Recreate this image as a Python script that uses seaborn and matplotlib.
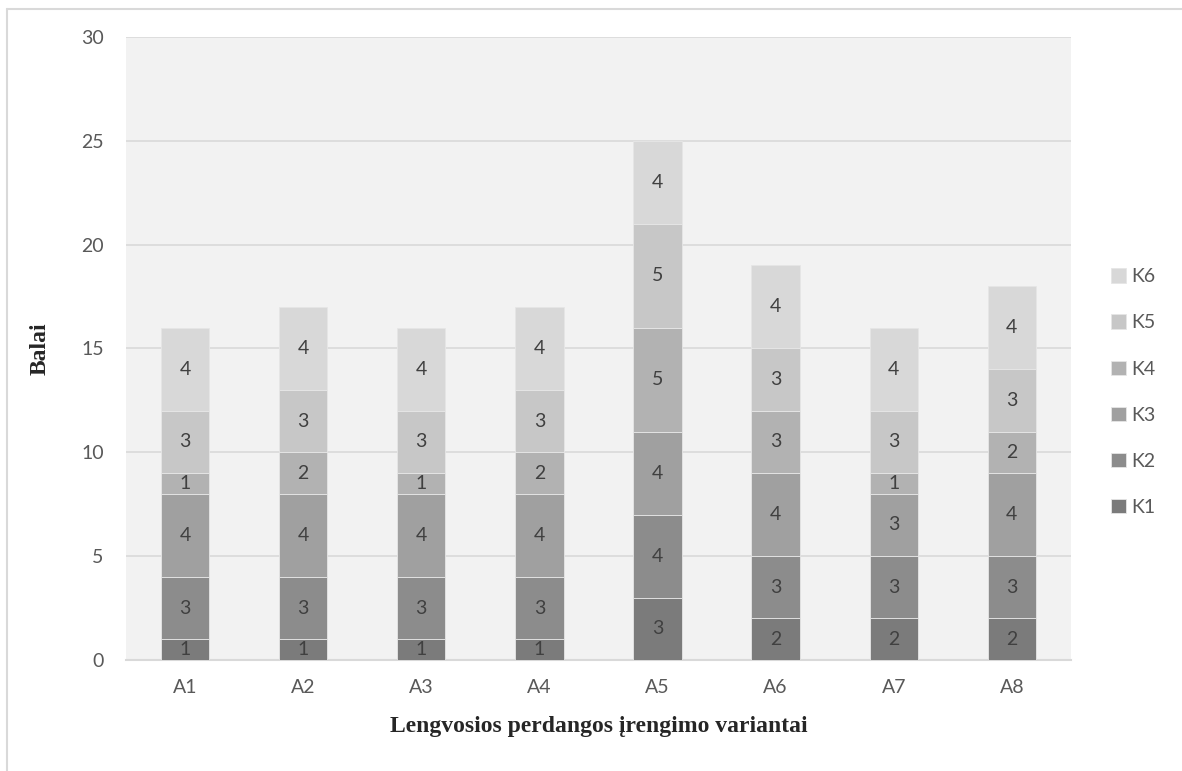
import numpy as np
import pandas as pd
import seaborn as sns
import matplotlib.pyplot as plt
from matplotlib.lines import Line2D

#%% Data
variants = ["A1", "A2", "A3", "A4", "A5", "A6", "A7", "A8"]
criteria = ["K1", "K2", "K3", "K4", "K5", "K6"]
k1 = [1, 1, 1, 1, 3, 2, 2, 2]
k2 = [3, 3, 3, 3, 4, 3, 3, 3]
k3 = [4, 4, 4, 4, 4, 4, 3, 4]
k4 = [1, 2, 1, 2, 5, 3, 1, 2]
k5 = [3, 3, 3, 3, 5, 3, 3, 3]
k6 = [4, 4, 4, 4, 4, 4, 4, 4]
series = [k1, k2, k3, k4, k5, k6]
colors = ["#7b7b7b", "#8c8c8c", "#a0a0a0", "#b2b2b2", "#c7c7c7", "#d8d8d8"]

#%% Plot
sns.set_style("white")
plt.rcParams['font.family'] = ['Lato', 'DejaVu Sans']
fig = plt.figure(figsize=(11.82, 7.71), dpi=100)
ax = fig.add_axes([0.1066, 0.144, 0.7994, 0.808])
ax.set_facecolor("#f2f2f2")

bottom = np.zeros(len(variants))
handles = []
for name, vals, col in zip(criteria, series, colors):
    df = pd.DataFrame({"variant": variants, "value": vals})
    n_before = len(ax.containers)
    sns.barplot(data=df, x="variant", y="value", color=col, width=0.41,
                bottom=bottom, edgecolor="#e6e6e6", linewidth=0.6,
                ax=ax, zorder=3)
    cont = ax.containers[n_before]
    ax.bar_label(cont, labels=[str(v) for v in vals], label_type="center",
                 color="#404040", fontsize=14)
    handles.append(cont.patches[0])
    bottom = bottom + np.array(vals)

ax.set_ylim(0, 30)
ax.set_xlim(-0.5, 7.5)
ax.set_yticks([0, 5, 10, 15, 20, 25, 30])
ax.yaxis.grid(True, color="#d9d9d9", linewidth=1.2, zorder=0)
ax.set_axisbelow(True)
for s in ["top", "right", "left"]:
    ax.spines[s].set_visible(False)
ax.spines["bottom"].set_color("#d9d9d9")
ax.spines["bottom"].set_linewidth(1.5)
ax.tick_params(axis="y", length=0, labelsize=14, labelcolor="#595959", pad=16)
ax.tick_params(axis="x", which="major", length=0, labelsize=14,
               labelcolor="#595959", pad=14)
ax.set_xticks(np.arange(-0.5, 8, 1), minor=True)
ax.tick_params(axis="x", which="minor", length=6, width=1.5, color="#d9d9d9")

ax.set_xlabel("Lengvosios perdangos įrengimo variantai", fontsize=17,
              fontweight="bold", family="Liberation Serif", labelpad=14)
ax.set_ylabel("Balai", fontsize=17, fontweight="bold",
              family="Liberation Serif", labelpad=22)

leg = ax.legend(handles[::-1], criteria[::-1], loc="center left",
                bbox_to_anchor=(1.024, 0.43), frameon=False, fontsize=14,
                handlelength=0.75, handleheight=0.75, labelspacing=1.5,
                handletextpad=0.3, labelcolor="#595959")

# chart area border (left and top edges visible)
fig.add_artist(Line2D([7 / 1182, 7 / 1182], [0, 1 - 9 / 771],
                      transform=fig.transFigure, color="#d9d9d9", lw=1.5))
fig.add_artist(Line2D([7 / 1182, 1], [1 - 9 / 771, 1 - 9 / 771],
                      transform=fig.transFigure, color="#d9d9d9", lw=1.5))

plt.savefig("out.png", dpi=100)
